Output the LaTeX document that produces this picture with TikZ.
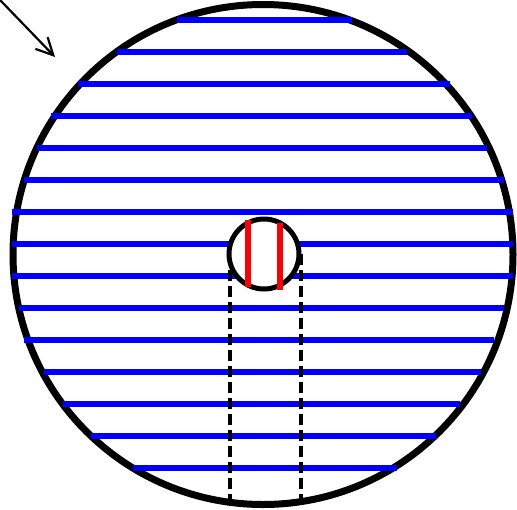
\documentclass[tikz,border=0pt]{standalone}
\usetikzlibrary{arrows.meta}
\begin{document}
\begin{tikzpicture}[x=1pt,y=-1pt,
  bigring/.style={draw=black,line width=7pt},
  hline/.style={draw=blue,line width=6.5pt},
  smallring/.style={draw=black,fill=white,line width=5pt},
  redline/.style={draw=red,line width=5.5pt},
  dashline/.style={draw=black,line width=4pt,dash pattern=on 11pt off 5pt},
  pointer/.style={draw=black,line width=2.2pt,-{Straight Barb[length=17pt,width=17pt,line width=2.2pt]}}]
\useasboundingbox (0,0) rectangle (517,509);
\node[circle,minimum size=500pt,inner sep=0pt,bigring] (big) at (263,254.5) {};
\foreach \y/\xl/\xr [count=\i] in {20/177/352, 52/117/407, 84/78/450, 116/51/472, 148/37/487, 180/24/504, 212/12/513, 244/12/513, 276/12/513, 308/19/504, 340/24/494, 372/44/481, 404/63/460, 436/91/436, 468/133/397}{
  \coordinate (l\i) at (\xl,\y);
  \coordinate (r\i) at (\xr,\y);
  \draw[hline] (l\i) -- (r\i);
}
\coordinate (d1a) at (230,254);
\coordinate (d1b) at (230,509);
\coordinate (d2a) at (301,254);
\coordinate (d2b) at (301,509);
\draw[dashline] (d1a) -- (d1b);
\draw[dashline] (d2a) -- (d2b);
\node[circle,minimum size=70pt,inner sep=0pt,smallring] (small) at (264,254) {};
\coordinate (ra1) at (248,220);
\coordinate (ra2) at (248,287);
\coordinate (rb1) at (280,223);
\coordinate (rb2) at (280,290);
\draw[redline] (ra1) -- (ra2);
\draw[redline] (rb1) -- (rb2);
\coordinate (p0) at (0,0);
\coordinate (p1) at (55,57);
\draw[pointer] (p0) -- (p1);
\end{tikzpicture}
\end{document}
